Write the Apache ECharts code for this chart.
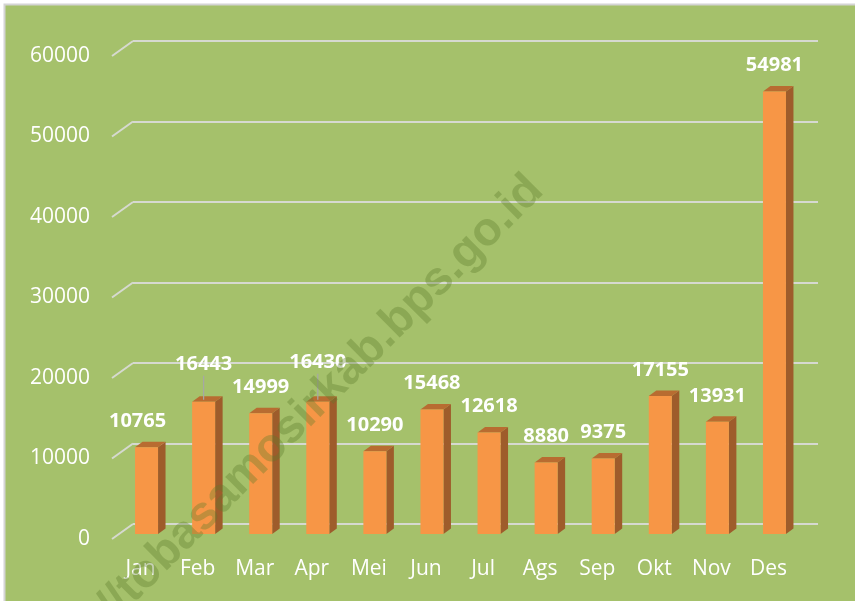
<!DOCTYPE html>
<html>
<head>
<meta charset="utf-8">
<script src="https://cdn.jsdelivr.net/npm/echarts@6/dist/echarts.min.js"></script>
<style>
  html, body { margin: 0; padding: 0; background: #fff; }
  #chart { width: 855px; height: 601px; }
</style>
</head>
<body>
<div id="chart"></div>
<script>
// data
const months = ["Jan", "Feb", "Mar", "Apr", "Mei", "Jun", "Jul", "Ags", "Sep", "Okt", "Nov", "Des"];
const totals = [10765, 16443, 14999, 16430, 10290, 15468, 12618, 8880, 9375, 17155, 13931, 54981];
const yTicks = [0, 10000, 20000, 30000, 40000, 50000, 60000];

// label nudges (excel pushed some labels around)
const labelNudge = {
  Jan: { dx: -9, dy: 0 },
  Feb: { dx: 0, dy: -11, leader: true },
  Apr: { dx: 0, dy: -13, leader: true },
};

// 3d look
const FRONT_DX = -15, FRONT_DY = 10;   // bar front face vs back wall
const DEPTH_X = 7.5, DEPTH_Y = -5.5;   // bar depth
const BAR_W = 23;
const WALL_DX = -21, WALL_DY = 15;     // floor/side wall slant
const GREEN = "#a5c16b";
const GRID_COLOR = "#d6d9d0";

const chart = echarts.init(document.getElementById("chart"));

function renderBar(params, api) {
  const i = api.value(0);
  const v = api.value(1);
  const top = api.coord([i, v]);
  const base = api.coord([i, 0]);
  const cx = top[0] + FRONT_DX;
  const yT = top[1] + FRONT_DY;
  const yB = base[1] + FRONT_DY;
  const xL = cx - BAR_W / 2;
  const xR = cx + BAR_W / 2;
  const nudge = labelNudge[months[i]] || { dx: 0, dy: 0 };
  const ly = yT - 26 + nudge.dy;

  const children = [
    {
      type: "polygon",
      shape: { points: [[xR, yT], [xR + DEPTH_X, yT + DEPTH_Y], [xR + DEPTH_X, yB + DEPTH_Y], [xR, yB]] },
      style: { fill: "#9e5c2b" },
    },
    {
      type: "polygon",
      shape: { points: [[xL, yT], [xL + DEPTH_X, yT + DEPTH_Y], [xR + DEPTH_X, yT + DEPTH_Y], [xR, yT]] },
      style: { fill: "#b86c31" },
    },
    {
      type: "rect",
      shape: { x: xL, y: yT, width: BAR_W, height: yB - yT },
      style: { fill: "#f79646" },
    },
    {
      type: "text",
      x: cx + nudge.dx,
      y: ly,
      style: {
        text: String(v),
        fill: "#fff",
        font: 'bold 20px "Open Sans"',
        align: "center",
        verticalAlign: "middle",
      },
    },
  ];
  if (nudge.leader) {
    children.push({
      type: "line",
      shape: { x1: cx, y1: ly + 11, x2: cx, y2: yT - 2 },
      style: { stroke: "#a6a6a6", lineWidth: 1.2 },
    });
  }
  return { type: "group", children: children };
}

function renderSlant(params, api) {
  const v = api.value(0);
  const x = params.coordSys.x;
  const y = api.coord([0, v])[1];
  return {
    type: "line",
    shape: { x1: x, y1: y, x2: x + WALL_DX, y2: y + WALL_DY },
    style: { stroke: GRID_COLOR, lineWidth: 2 },
  };
}

const option = {
  backgroundColor: "#fff",
  animation: false,
  graphic: [
    {
      type: "rect",
      z: -10,
      silent: true,
      shape: { x: 4.5, y: 4.5, width: 900, height: 700 },
      style: { fill: GREEN, stroke: "#d4d4d4", lineWidth: 2 },
    },
    {
      type: "text",
      z: 100,
      x: 536,
      y: 183,
      rotation: Math.PI / 4,
      silent: true,
      style: {
        text: "http://tobasamosirkab.bps.go.id",
        font: 'bold 47px "Liberation Sans"',
        fill: "rgba(95, 125, 45, 0.36)",
        align: "right",
        verticalAlign: "middle",
      },
    },
  ],
  grid: [
    // back wall
    { left: 133, right: 37, top: 41, bottom: 77 },
    // front plane, for the axis labels
    { left: 112, right: 58, top: 56, bottom: 62 },
  ],
  xAxis: [
    {
      gridIndex: 0,
      type: "category",
      data: months,
      axisLine: { show: false },
      axisTick: { show: false },
      axisLabel: { show: false },
    },
    {
      gridIndex: 1,
      type: "category",
      data: months,
      axisLine: { show: false },
      axisTick: { show: false },
      axisLabel: {
        color: "#fff",
        fontSize: 21,
        fontFamily: "Open Sans",
        margin: 20,
      },
    },
  ],
  yAxis: [
    {
      gridIndex: 0,
      type: "value",
      min: 0,
      max: 60000,
      interval: 10000,
      axisLine: { show: false },
      axisTick: { show: false },
      axisLabel: { show: false },
      splitLine: { show: true, lineStyle: { color: GRID_COLOR, width: 2 } },
    },
    {
      gridIndex: 1,
      type: "value",
      min: 0,
      max: 60000,
      interval: 10000,
      axisLine: { show: false },
      axisTick: { show: false },
      splitLine: { show: false },
      axisLabel: {
        color: "#fff",
        fontSize: 21,
        fontFamily: "Open Sans",
        margin: 22,
        formatter: (val) => String(val),
      },
    },
  ],
  series: [
    {
      name: "slant",
      type: "custom",
      xAxisIndex: 0,
      yAxisIndex: 0,
      renderItem: renderSlant,
      data: yTicks.map((t) => [t]),
      encode: { y: 0 },
      silent: true,
      z: 1,
    },
    {
      name: "Jumlah",
      type: "custom",
      xAxisIndex: 0,
      yAxisIndex: 0,
      renderItem: renderBar,
      data: totals.map((v, i) => [i, v]),
      encode: { x: 0, y: 1 },
      z: 5,
    },
  ],
};

chart.setOption(option);
</script>
</body>
</html>
